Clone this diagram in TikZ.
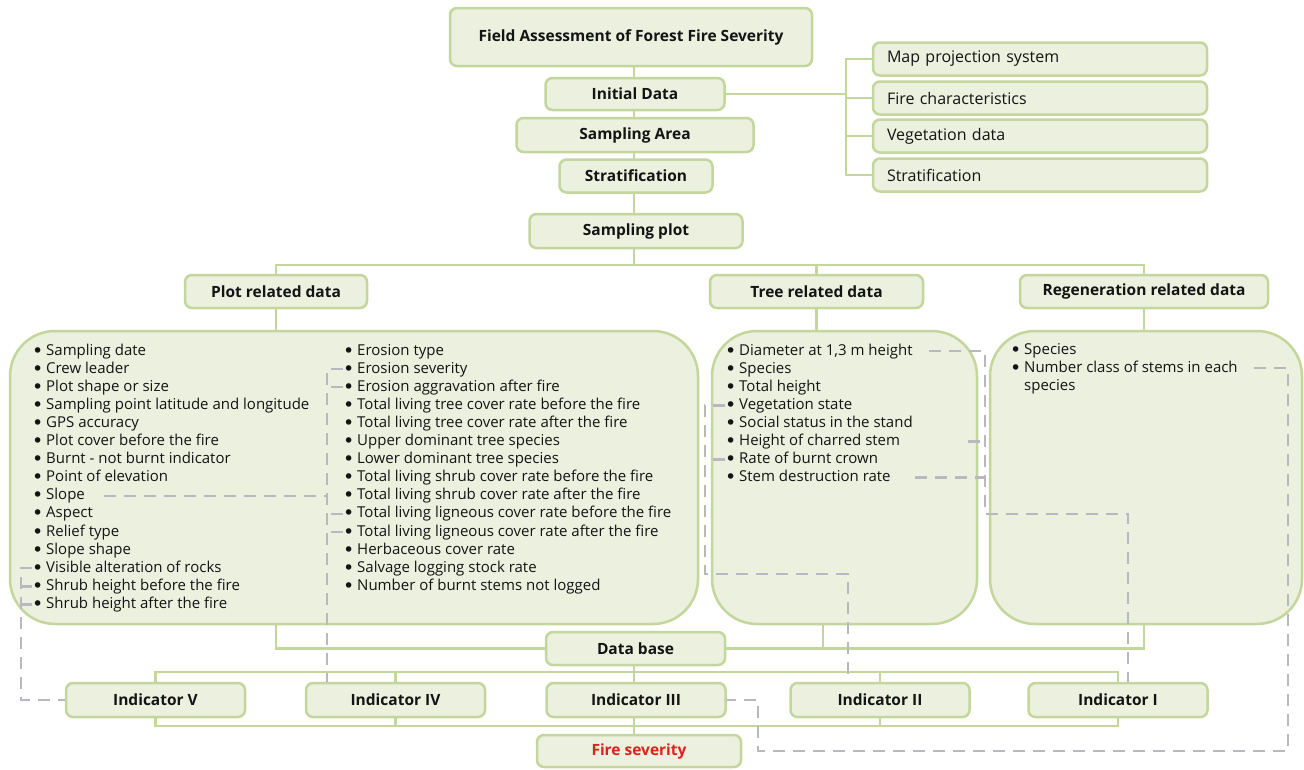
\documentclass[tikz,border=0pt]{standalone}
\usepackage{fontspec}
\setmainfont{Open Sans}
\newfontfamily\bulfont{DejaVu Sans}
\usetikzlibrary{backgrounds}
\definecolor{boxfill}{HTML}{EBF0DF}
\definecolor{boxline}{HTML}{C3D69B}
\definecolor{dashgray}{HTML}{B8B8BE}
\definecolor{firered}{HTML}{E0201C}
\definecolor{ink}{HTML}{141414}
\newcommand\itembul{\makebox[14pt][l]{\raisebox{-2pt}{\bulfont\fontsize{19}{19}\selectfont •}}}
\tikzset{
  hbox/.style={draw=boxline, fill=boxfill, line width=2.5pt, rounded corners=7pt, inner sep=0pt,
    text=ink, font=\fontsize{15.5}{18}\selectfont\bfseries},
  sbox/.style={draw=boxline, fill=boxfill, line width=2.5pt, rounded corners=7pt, inner xsep=14pt, inner ysep=0pt,
    text width=306pt, minimum height=33pt, align=left, text=ink, font=\fontsize{16}{18}\selectfont},
  bigbox/.style={draw=boxline, fill=boxfill, line width=2.5pt, rounded corners=45pt, inner sep=0pt},
  itm/.style={anchor=west, inner sep=0pt, text height=11pt, text depth=3pt, text=ink, font=\fontsize{15}{18}\selectfont},
  link/.style={draw=boxline, line width=2.5pt},
  dashlink/.style={draw=dashgray, line width=2.5pt, dash pattern=on 12pt off 8pt},
}
\begin{document}
\begin{tikzpicture}[x=1pt, y=-1pt]
\useasboundingbox (0,0) rectangle (1304,769);
% top column
\node[hbox, minimum width=362pt, minimum height=58pt] (top) at (631,37) {Field Assessment of Forest Fire Severity};
\node[hbox, minimum width=179pt, minimum height=32pt] (init) at (635,94) {Initial Data};
\node[hbox, minimum width=237pt, minimum height=34pt] (area) at (635,135) {Sampling Area};
\node[hbox, minimum width=153pt, minimum height=33pt] (strat) at (636,176) {Stratification};
\node[hbox, minimum width=213pt, minimum height=34pt] (splot) at (636,231) {Sampling plot};
% right list
\node[sbox] (m1) at (1040,59) {Map projection system};
\node[sbox] (m2) at (1040,98) {Fire characteristics};
\node[sbox] (m3) at (1040,136) {Vegetation data};
\node[sbox] (m4) at (1040,175) {Stratification};
\coordinate (brk) at (846,94);
% headers
\node[hbox, minimum width=182pt, minimum height=33pt] (plotrel) at (276,291.5) {Plot related data};
\node[hbox, minimum width=213pt, minimum height=33pt] (treerel) at (816.5,291.5) {Tree related data};
\node[hbox, minimum width=248pt, minimum height=33pt] (regrel) at (1144,291.5) {Regeneration related data};
\coordinate (bus1) at (634,265);
% big boxes
\node[bigbox, minimum width=688pt, minimum height=293pt] (plotbox) at (354,477.5) {};
\node[bigbox, minimum width=265pt, minimum height=293pt] (treebox) at (844.5,477.5) {};
\node[bigbox, minimum width=312pt, minimum height=293pt] (regbox) at (1146,477.5) {};
% items
\foreach \t [count=\i] in {Sampling date, Crew leader, Plot shape or size, Sampling point latitude and longitude,
  GPS accuracy, Plot cover before the fire, Burnt - not burnt indicator, Point of elevation, Slope, Aspect,
  Relief type, Slope shape, Visible alteration of rocks, Shrub height before the fire, Shrub height after the fire}
  \node[itm] (p\i) at (32,{351+18.1*(\i-1)}) {\itembul\t};
\foreach \t [count=\i] in {Erosion type, Erosion severity, Erosion aggravation after fire,
  Total living tree cover rate before the fire, Total living tree cover rate after the fire,
  Upper dominant tree species, Lower dominant tree species, Total living shrub cover rate before the fire,
  Total living shrub cover rate after the fire, Total living ligneous cover rate before the fire,
  Total living ligneous cover rate after the fire, Herbaceous cover rate, Salvage logging stock rate,
  Number of burnt stems not logged}
  \node[itm] (q\i) at (343,{351+18.1*(\i-1)}) {\itembul\t};
\foreach \t [count=\i] in {{Diameter at 1,3 m height}, Species, Total height, Vegetation state,
  Social status in the stand, Height of charred stem, Rate of burnt crown, Stem destruction rate}
  \node[itm] (t\i) at (725,{351+18.1*(\i-1)}) {\itembul\t};
\node[itm] (r1) at (1010,350) {\itembul Species};
\node[itm] (r2) at (1010,368) {\itembul Number class of stems in each};
\node[itm] (r2b) at (1024,386) {species};
% lower part
\node[hbox, minimum width=179pt, minimum height=33pt] (db) at (635.5,648.5) {Data base};
\node[hbox, minimum width=179pt, minimum height=34pt] (ind5) at (155.5,700) {Indicator V};
\node[hbox, minimum width=179pt, minimum height=34pt] (ind4) at (395.5,700) {Indicator IV};
\node[hbox, minimum width=179pt, minimum height=34pt] (ind3) at (636,700) {Indicator III};
\node[hbox, minimum width=179pt, minimum height=34pt] (ind2) at (880,700) {Indicator II};
\node[hbox, minimum width=179pt, minimum height=34pt] (ind1) at (1118,700) {Indicator I};
\node[hbox, minimum width=204pt, minimum height=32pt, text=firered] (fs) at (639,751) {Fire severity};
\coordinate (tb) at (823,648);
\coordinate (bus2) at (634,672);
\coordinate (bus3) at (634,726);
% solid connectors
\begin{pgfonlayer}{background}
\draw[link] (top.south -| bus1) -- (splot.south -| bus1) -- (bus1);
\draw[link] (plotrel.north) |- (bus1) -| (regrel.north);
\draw[link] (treerel.north) -- (treerel.north |- bus1);
\draw[link] (init.east) -- (init.east -| brk);
\draw[link] (m1.west) -| (m4.west -| brk) -- (m4.west);
\draw[link] (m2.west) -- (m2.west -| brk);
\draw[link] (m3.west) -- (m3.west -| brk);
\draw[link] (plotrel.south) -- (plotrel.south |- plotbox.north);
\draw[link] (treerel.south) -- (treerel.south |- treebox.north);
\draw[link] (regrel.south) -- (regrel.south |- regbox.north);
\draw[link] (plotbox.south -| plotrel.south) |- (db.west);
\draw[link] (db.east) -| (regbox.south -| regrel.south);
\draw[link] (tb |- treebox.south) -- (tb);
\draw[link] (db.south -| bus2) -- (bus2);
\draw[link] (ind5.north) |- (bus2) -| (ind1.north);
\draw[link] (ind4.north) -- (ind4.north |- bus2);
\draw[link] (ind3.north -| bus2) -- (bus2);
\draw[link] (ind2.north) -- (ind2.north |- bus2);
\draw[link] (ind5.south) |- (bus3) -| (ind1.south);
\draw[link] (ind4.south) -- (ind4.south |- bus3);
\draw[link] (ind3.south -| bus3) -- (fs.north -| bus3);
\draw[link] (ind2.south) -- (ind2.south |- bus3);
\end{pgfonlayer}
% dashed connectors
\coordinate (dlA) at (21,0);
\coordinate (dlB) at (327,0);
\coordinate (dlC) at (705,0);
\coordinate (cC) at (848,574);
\coordinate (dlD) at (985,0);
\coordinate (cD) at (1128,514);
\coordinate (dlE) at (1288,0);
\coordinate (cE) at (758,751);
\draw[dashlink] (p13.west) -- (p13.west -| dlA) |- (ind5.west);
\draw[dashlink] (p14.west) -- (p14.west -| dlA);
\draw[dashlink] (p15.west) -- (p15.west -| dlA);
\draw[dashlink] (q2.west) -- (q2.west -| dlB) -- (dlB |- ind4.north);
\draw[dashlink] (q3.west) -- (q3.west -| dlB);
\draw[dashlink] (q10.west) -- (q10.west -| dlB);
\draw[dashlink] (q11.west) -- (q11.west -| dlB);
\draw[dashlink, shorten <=19pt] (p9.east) -- (p9.east -| dlB);
\draw[dashlink] (t4.west) -- (t4.west -| dlC) -- (dlC |- cC) -- (cC) -- (cC |- ind2.north);
\draw[dashlink] (t7.west) -- (t7.west -| dlC);
\draw[dashlink, shorten <=16pt] (t1.east) -- (t1.east -| dlD) -- (dlD |- cD) -- (cD) -- (cD |- ind1.north);
\draw[dashlink] ([xshift=-17pt]t6.east -| dlD) -- (t6.east -| dlD);
\draw[dashlink] ([xshift=-70pt]t8.east -| dlD) -- (t8.east -| dlD);
\draw[dashlink, shorten <=16pt] (r2.east) -- (r2.east -| dlE) -- (dlE |- cE) -- (cE) -- (cE |- ind3.east) -- (ind3.east);
\end{tikzpicture}
\end{document}
